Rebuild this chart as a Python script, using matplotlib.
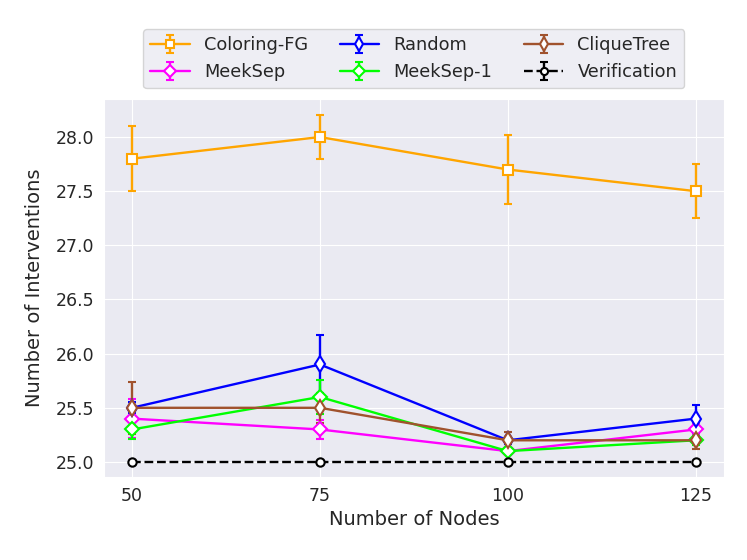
import matplotlib
matplotlib.use('Agg')
import matplotlib.pyplot as plt
import seaborn as sns

sns.set_style('darkgrid')
plt.rcParams['font.family'] = ['DejaVu Sans']

nodes = [50, 75, 100, 125]

coloring_fg = [27.8, 28.0, 27.7, 27.5]
coloring_fg_err = [0.30, 0.20, 0.32, 0.25]
random_vals = [25.5, 25.9, 25.2, 25.4]
random_err = [0.05, 0.27, 0.03, 0.13]
clique_tree = [25.5, 25.5, 25.2, 25.2]
clique_tree_err = [0.24, 0.14, 0.08, 0.08]
meeksep = [25.4, 25.3, 25.1, 25.3]
meeksep_err = [0.18, 0.09, 0.03, 0.05]
meeksep1 = [25.3, 25.6, 25.1, 25.2]
meeksep1_err = [0.09, 0.16, 0.03, 0.04]
verification = [25.0, 25.0, 25.0, 25.0]
verification_err = [0.0, 0.0, 0.0, 0.0]

fig, ax = plt.subplots(figsize=(7.47, 5.6), dpi=100)

kw = dict(capsize=3, linewidth=1.7, markerfacecolor='white',
          markeredgewidth=1.5, elinewidth=1.7, capthick=1.7)

ax.errorbar(nodes, coloring_fg, yerr=coloring_fg_err, color='orange', marker='s',
            markersize=7, label='Coloring-FG', **kw)
ax.errorbar(nodes, meeksep, yerr=meeksep_err, color='magenta', marker='D',
            markersize=7, label='MeekSep', **kw)
ax.errorbar(nodes, random_vals, yerr=random_err, color='blue', marker='d',
            markersize=8, label='Random', **kw)
ax.errorbar(nodes, meeksep1, yerr=meeksep1_err, color='lime', marker='D',
            markersize=7, label='MeekSep-1', **kw)
ax.errorbar(nodes, clique_tree, yerr=clique_tree_err, color='sienna', marker='d',
            markersize=8, label='CliqueTree', **kw)
ax.errorbar(nodes, verification, yerr=verification_err, color='black', marker='o',
            markersize=6, linestyle='--', label='Verification', **kw)

ax.set_xticks(nodes)
ax.set_xlabel('Number of Nodes', fontsize=14)
ax.set_ylabel('Number of Interventions', fontsize=14, labelpad=8)
ax.tick_params(labelsize=12.5)
ax.set_ylim(24.86, 28.35)

ax.legend(ncol=3, loc='lower center', bbox_to_anchor=(0.5, 1.005), fontsize=12.8,
          handlelength=2.2, columnspacing=1.8, frameon=True, markerscale=0.85)

fig.subplots_adjust(left=0.139, right=0.969, top=0.823, bottom=0.148)
fig.savefig('out.png', dpi=100)
